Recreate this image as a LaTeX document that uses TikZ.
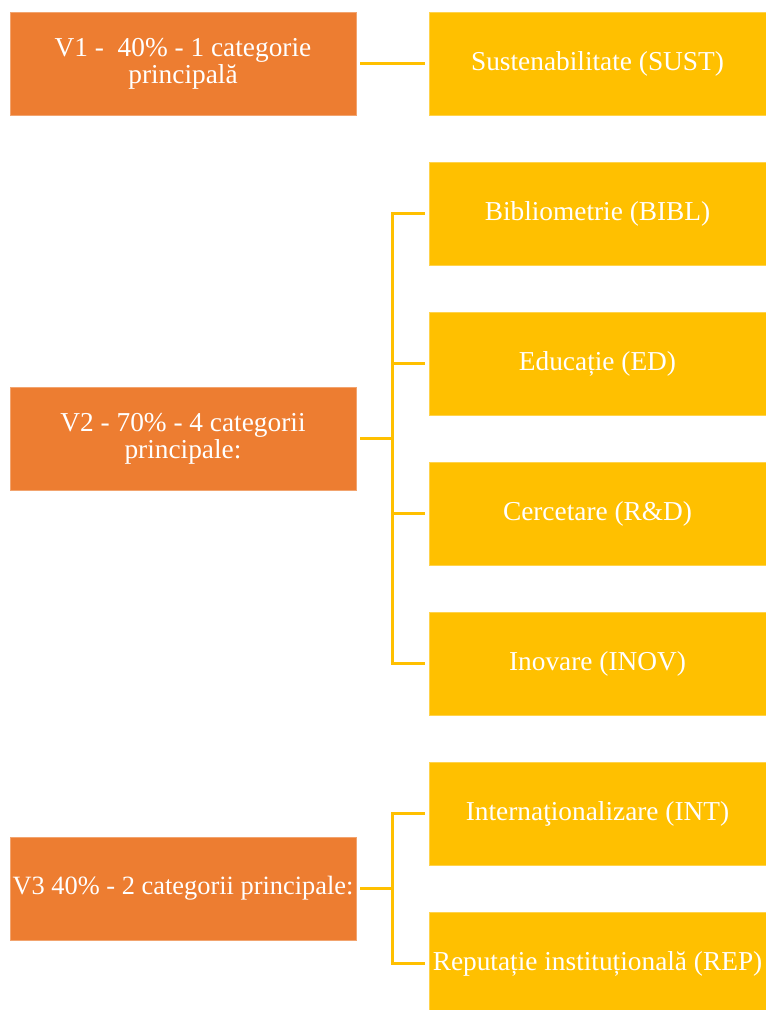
\documentclass[tikz,border=0pt]{standalone}
\usepackage{fontspec}
\setmainfont{Liberation Serif}
\definecolor{vorange}{HTML}{ED7D31}
\definecolor{vyellow}{HTML}{FFC000}
\tikzset{
	vbox/.style={fill=vorange, draw=vorange!70!white, minimum width=259.5pt, minimum height=77.25pt, align=center, text=white, inner sep=0pt, font=\fontsize{20.5}{20}\selectfont},
	catbox/.style={fill=vyellow, draw=vyellow!70!white, minimum width=252.75pt, minimum height=77.25pt, align=center, text=white, inner sep=0pt, font=\fontsize{20.5}{20}\selectfont},
	link/.style={draw=vyellow, line width=2.25pt}
}
\begin{document}
\begin{tikzpicture}[x=0.75pt, y=-0.75pt]
	\useasboundingbox (0,0) rectangle (766,1010);
	\clip (0,0) rectangle (766,1010);
	% versiuni
	\node[vbox] (v1) at (183,63.5) {V1 -~ 40\% - 1 categorie\\principală};
	\node[vbox] (v2) at (183,438.5) {V2 - 70\% - 4 categorii\\principale:};
	\node[vbox, font=\fontsize{19.8}{20}\selectfont] (v3) at (183,888.5) {V3 40\% - 2 categorii principale:};
	% categorii
	\foreach \name/\y/\txt in {sust/63.5/Sustenabilitate (SUST), bibl/213.5/Bibliometrie (BIBL), ed/363.5/Educație (ED), rd/513.5/Cercetare (R\&D), inov/663.5/Inovare (INOV), int/813.5/Internaţionalizare (INT), rep/963.5/Reputație instituțională (REP)}
		\node[catbox] (\name) at (597.5,\y) {\txt};
	% legaturi
	\draw[link, shorten <=3pt, shorten >=2.5pt] (v1) -- (sust);
	\coordinate (b2) at (392,438.5);
	\coordinate (b3) at (392,888.5);
	\draw[link, shorten <=3pt] (v2.east) -- (b2);
	\draw[link, shorten <=3pt] (v3.east) -- (b3);
	\foreach \c in {bibl,ed,rd,inov}
		\draw[link, shorten >=2.5pt] (b2) |- (\c.west);
	\foreach \c in {int,rep}
		\draw[link, shorten >=2.5pt] (b3) |- (\c.west);
\end{tikzpicture}
\end{document}
